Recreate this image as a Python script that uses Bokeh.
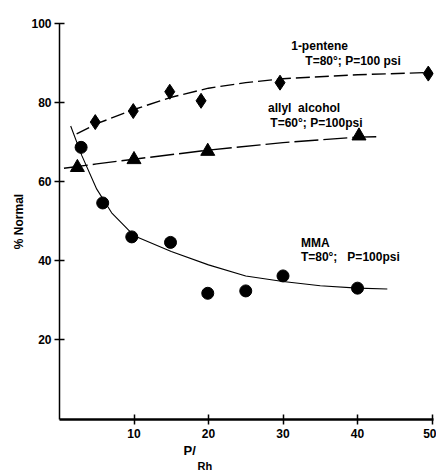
from bokeh.plotting import figure
from bokeh.models import Range1d, Label, FixedTicker, Title
from bokeh.embed import file_html
from bokeh.resources import INLINE

# --- data ---
pentene_x = [4.8, 9.9, 14.8, 19.0, 29.6, 49.5]
pentene_y = [75.0, 77.8, 82.7, 80.4, 85.0, 87.3]
pentene_curve_x = [2.3, 5, 10, 15, 20, 25, 30, 40, 50]
pentene_curve_y = [72.0, 74.6, 78.2, 81.3, 83.6, 85.0, 86.0, 87.0, 87.6]

allyl_x = [2.4, 10.0, 19.9, 40.2]
allyl_y = [63.5, 65.5, 67.6, 71.5]
allyl_curve_x = [0.6, 5, 10, 20, 30, 40, 42.8]
allyl_curve_y = [63.3, 64.4, 65.6, 67.9, 69.8, 71.2, 71.3]

mma_x = [2.9, 5.8, 9.7, 14.9, 19.9, 25.0, 30.0, 40.0]
mma_y = [68.6, 54.5, 45.9, 44.5, 31.6, 32.2, 36.0, 32.9]
mma_curve_x = [1.5, 3, 5, 7, 10, 15, 20, 25, 30, 35, 40, 44]
mma_curve_y = [74.0, 66.5, 58.0, 52.0, 46.2, 42.2, 38.8, 36.0, 34.6, 33.5, 32.9, 32.7]

x_ticks = [10, 20, 30, 40, 50]
y_ticks = [20, 40, 60, 80, 100]

FONT = "Liberation Sans"
NB = "\u00a0"

p = figure(width=436, height=471, output_backend="svg", toolbar_location=None,
           x_range=Range1d(0, 50.2), y_range=Range1d(-0.4, 100),
           min_border_left=59, min_border_right=3, min_border_top=23, min_border_bottom=52)
p.outline_line_color = None
p.grid.visible = False
p.background_fill_color = "white"

for ax in (p.xaxis[0], p.yaxis[0]):
    ax.major_tick_in = 5
    ax.major_tick_out = 5
    ax.minor_tick_line_color = None
    ax.major_label_text_font = FONT
    ax.major_label_text_font_style = "bold"
    ax.major_label_text_font_size = "12px"
    ax.major_label_text_color = "black"
    ax.axis_line_color = "black"
    ax.major_tick_line_color = "black"

p.xaxis.ticker = FixedTicker(ticks=x_ticks)
p.yaxis.ticker = FixedTicker(ticks=y_ticks)
p.xaxis.axis_line_width = 2.5
p.xaxis.major_tick_line_width = 1.5
p.yaxis.axis_line_width = 1.5
p.yaxis.major_tick_line_width = 1.5
p.xaxis.major_label_standoff = 4
p.yaxis.major_label_standoff = 3

p.yaxis.axis_label = "% Normal"
p.yaxis.axis_label_text_font = FONT
p.yaxis.axis_label_text_font_style = "bold"
p.yaxis.axis_label_text_font_size = "12px"
p.yaxis.axis_label_text_color = "black"
p.yaxis.axis_label_standoff = 2

# x-axis label "P/Rh" as two stacked titles below the axis
t1 = Title(text="P/", align="left", offset=124, text_font=FONT, text_font_style="bold",
           text_font_size="13px", text_color="black", standoff=0)
t2 = Title(text="Rh", align="left", offset=138, text_font=FONT, text_font_style="bold",
           text_font_size="11px", text_color="black", standoff=0)
p.add_layout(t1, "below")
p.add_layout(t2, "below")

# curves
p.line(pentene_curve_x, pentene_curve_y, line_color="black", line_width=1.4, line_dash="14 5")
p.line(allyl_curve_x, allyl_curve_y, line_color="black", line_width=1.4, line_dash="24 5")
p.line(mma_curve_x, mma_curve_y, line_color="black", line_width=1.1)

# markers
p.scatter(pentene_x, pentene_y, marker="diamond", size=15, color="black")
p.scatter(allyl_x, allyl_y, marker="triangle", size=14, color="black")
p.scatter(mma_x, mma_y, marker="circle", size=12, color="black")

def lab(x, y, t, size="12px"):
    p.add_layout(Label(x=x, y=y, text=t, text_font=FONT, text_font_style="bold",
                       text_font_size=size, text_baseline="middle", text_align="left",
                       text_color="black"))

lab(31.1, 94.3, "1-pentene")
lab(33.0, 90.5, "T=80°; P=100 psi")
lab(28.0, 78.6, "allyl" + NB + NB + "alcohol")
lab(28.3, 74.8, "T=60°; P=100psi")
lab(32.4, 44.3, "MMA")
lab(32.4, 40.7, "T=80°;" + NB + NB + NB + "P=100psi")

open("out.html", "w").write(file_html(p, INLINE))
